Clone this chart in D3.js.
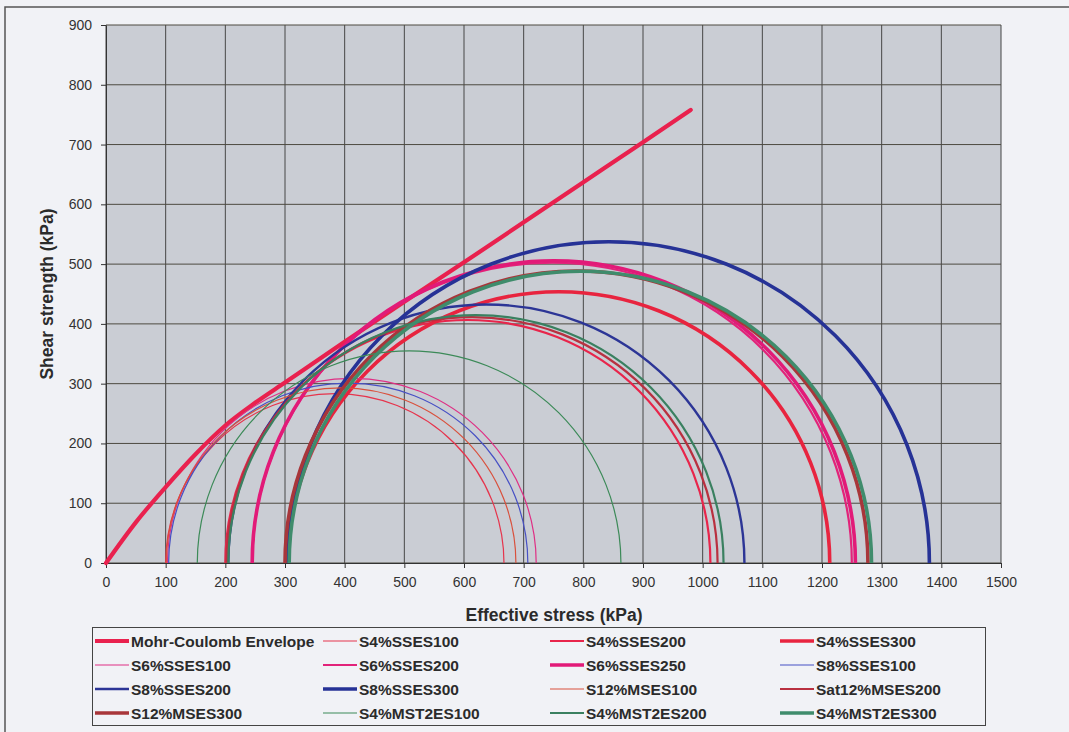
<!DOCTYPE html>
<html>
<head>
<meta charset="utf-8">
<script src="https://cdn.jsdelivr.net/npm/d3@7"></script>
<style>
	body { margin:0; background:#f1f2f6; overflow:hidden; }
	svg { display:block; }
	text { font-family: "Liberation Sans", Arial, sans-serif; fill:#2b2b2b; }
	.tick text { font-size:14px; fill:#333; }
	.axis-title { font-size:17.5px; font-weight:bold; }
	.legend text { font-size:15.5px; font-weight:bold; }
</style>
</head>
<body>
<div id="chart"></div>
<script>

// Mohr-Coulomb failure envelope
var envStress = [0, 50, 100, 150, 200, 250, 300, 400, 500, 600, 700, 800, 900, 980]
var envShear = [0, 68, 127, 182, 230, 268, 302, 370, 437, 503, 570, 637, 704, 758]

// Mohr circles (sigma3 -> sigma1, kPa)
var seriesNames = ["S4%SSES100", "S4%SSES200", "S4%SSES300",
	"S6%SSES100", "S6%SSES200", "S6%SSES250",
	"S8%SSES100", "S8%SSES200", "S8%SSES300",
	"S12%MSES100", "Sat12%MSES200", "S12%MSES300",
	"S4%MST2ES100", "S4%MST2ES200", "S4%MST2ES300"]
var sigma3 = [100, 200, 305, 103, 245, 245, 105, 205, 305, 101, 202, 300, 153, 205, 307]
var sigma1 = [667, 1013, 1213, 721, 1250, 1256, 707, 1070, 1380, 687, 1025, 1277, 863, 1035, 1283]

var xTicks = [0, 100, 200, 300, 400, 500, 600, 700, 800, 900, 1000, 1100, 1200, 1300, 1400, 1500]
var yTicks = [0, 100, 200, 300, 400, 500, 600, 700, 800, 900]

var legendNames = ["Mohr-Coulomb Envelope"].concat(seriesNames)

// line styles
var styles = {
	"Mohr-Coulomb Envelope": {c:"#e9214e", w:4.2},
	"S4%SSES100": {c:"#e6344c", w:1.2},
	"S4%SSES200": {c:"#e8254b", w:2.2},
	"S4%SSES300": {c:"#e8243f", w:3.6},
	"S6%SSES100": {c:"#df2f84", w:1.2},
	"S6%SSES200": {c:"#e2237a", w:2.2},
	"S6%SSES250": {c:"#e21a78", w:3.6},
	"S8%SSES100": {c:"#4750c4", w:1.2},
	"S8%SSES200": {c:"#2c3596", w:2.4},
	"S8%SSES300": {c:"#263296", w:3.6},
	"S12%MSES100": {c:"#d9503c", w:1.2},
	"Sat12%MSES200": {c:"#b93040", w:2.2},
	"S12%MSES300": {c:"#a8363a", w:3.6},
	"S4%MST2ES100": {c:"#3c8a58", w:1.2},
	"S4%MST2ES200": {c:"#3a8060", w:2.2},
	"S4%MST2ES300": {c:"#3f8c6c", w:3.6}
}

var width = 1069, height = 732
var margin = {top:25, left:106, right:68, bottom:169}

var svg = d3.select("#chart").append("svg")
	.attr("width", width)
	.attr("height", height)

// outer frame of the scanned figure
svg.append("rect")
	.attr("x", 5).attr("y", 7)
	.attr("width", 1100).attr("height", 760)
	.attr("fill", "#f1f2f6")
	.attr("stroke", "#555").attr("stroke-width", 1.5)

var x = d3.scaleLinear().domain([0, 1500]).range([margin.left, width - margin.right])
var y = d3.scaleLinear().domain([0, 900]).range([height - margin.bottom, margin.top])

svg.append("rect")
	.attr("x", x(0)).attr("y", y(900))
	.attr("width", x(1500) - x(0)).attr("height", y(0) - y(900))
	.attr("fill", "#cacdd4")

// grid
svg.append("g").selectAll("line").data(xTicks).enter().append("line")
	.attr("x1", function(d) { return x(d) }).attr("x2", function(d) { return x(d) })
	.attr("y1", y(0)).attr("y2", y(900))
	.attr("stroke", "#474747").attr("stroke-width", 1)

svg.append("g").selectAll("line").data(yTicks).enter().append("line")
	.attr("y1", function(d) { return y(d) }).attr("y2", function(d) { return y(d) })
	.attr("x1", x(0)).attr("x2", x(1500))
	.attr("stroke", "#4d4a40").attr("stroke-width", 1)

var xAxis = d3.axisBottom(x).tickValues(xTicks).tickFormat(d3.format("d"))
	.tickSize(5).tickSizeOuter(0).tickPadding(9)
var yAxis = d3.axisLeft(y).tickValues(yTicks).tickFormat(d3.format("d"))
	.tickSize(5).tickSizeOuter(0).tickPadding(9)

svg.append("g")
	.attr("transform", "translate(0," + y(0) + ")")
	.call(xAxis)
	.call(function(g) { g.selectAll("line, path").attr("stroke", "#333") })

svg.append("g")
	.attr("transform", "translate(" + x(0) + ",0)")
	.call(yAxis)
	.call(function(g) { g.selectAll("line, path").attr("stroke", "#333") })

svg.append("text")
	.attr("class", "axis-title")
	.attr("x", 554).attr("y", 621)
	.attr("text-anchor", "middle")
	.text("Effective stress (kPa)")

svg.append("text")
	.attr("class", "axis-title")
	.attr("transform", "translate(53,294) rotate(-90)")
	.attr("text-anchor", "middle")
	.text("Shear strength (kPa)")

var plot = svg.append("g")

var envLine = d3.line()
	.x(function(d, i) { return x(envStress[i]) })
	.y(function(d, i) { return y(envShear[i]) })
	.curve(d3.curveMonotoneX)

plot.append("path")
	.datum(envStress)
	.attr("d", envLine)
	.attr("fill", "none")
	.attr("stroke", styles["Mohr-Coulomb Envelope"].c)
	.attr("stroke-width", styles["Mohr-Coulomb Envelope"].w)
	.attr("stroke-linecap", "round")

// half ellipse in pixel space = half circle in data space
function mohrArc(i) {
	var r = (sigma1[i] - sigma3[i]) / 2
	var rx = x(r) - x(0)
	var ry = y(0) - y(r)
	return "M" + x(sigma3[i]) + "," + y(0) +
		"A" + rx + "," + ry + " 0 0 1 " + x(sigma1[i]) + "," + y(0)
}

plot.selectAll(".circle")
	.data(seriesNames)
	.enter().append("path")
	.attr("class", "circle")
	.attr("d", function(d, i) { return mohrArc(i) })
	.attr("fill", "none")
	.attr("stroke", function(d) { return styles[d].c })
	.attr("stroke-width", function(d) { return styles[d].w })

// legend
var legCols = [95, 323, 550, 780]
var legRows = [641, 665, 689, 713]

var legend = svg.append("g").attr("class", "legend")

legend.append("rect")
	.attr("x", 92.5).attr("y", 627.5)
	.attr("width", 893).attr("height", 98)
	.attr("fill", "#f1f2f6")
	.attr("stroke", "#444").attr("stroke-width", 1)

var items = legend.selectAll(".item")
	.data(legendNames)
	.enter().append("g")
	.attr("class", "item")
	.attr("transform", function(d, i) {
		return "translate(" + legCols[i % 4] + "," + legRows[Math.floor(i / 4)] + ")"
	})

items.append("line")
	.attr("x1", 0).attr("x2", 34)
	.attr("stroke", function(d) { return styles[d].c })
	.attr("stroke-width", function(d) { return styles[d].w })

items.append("text")
	.attr("x", 36)
	.attr("dy", "0.36em")
	.text(function(d) { return d })

</script>
</body>
</html>
